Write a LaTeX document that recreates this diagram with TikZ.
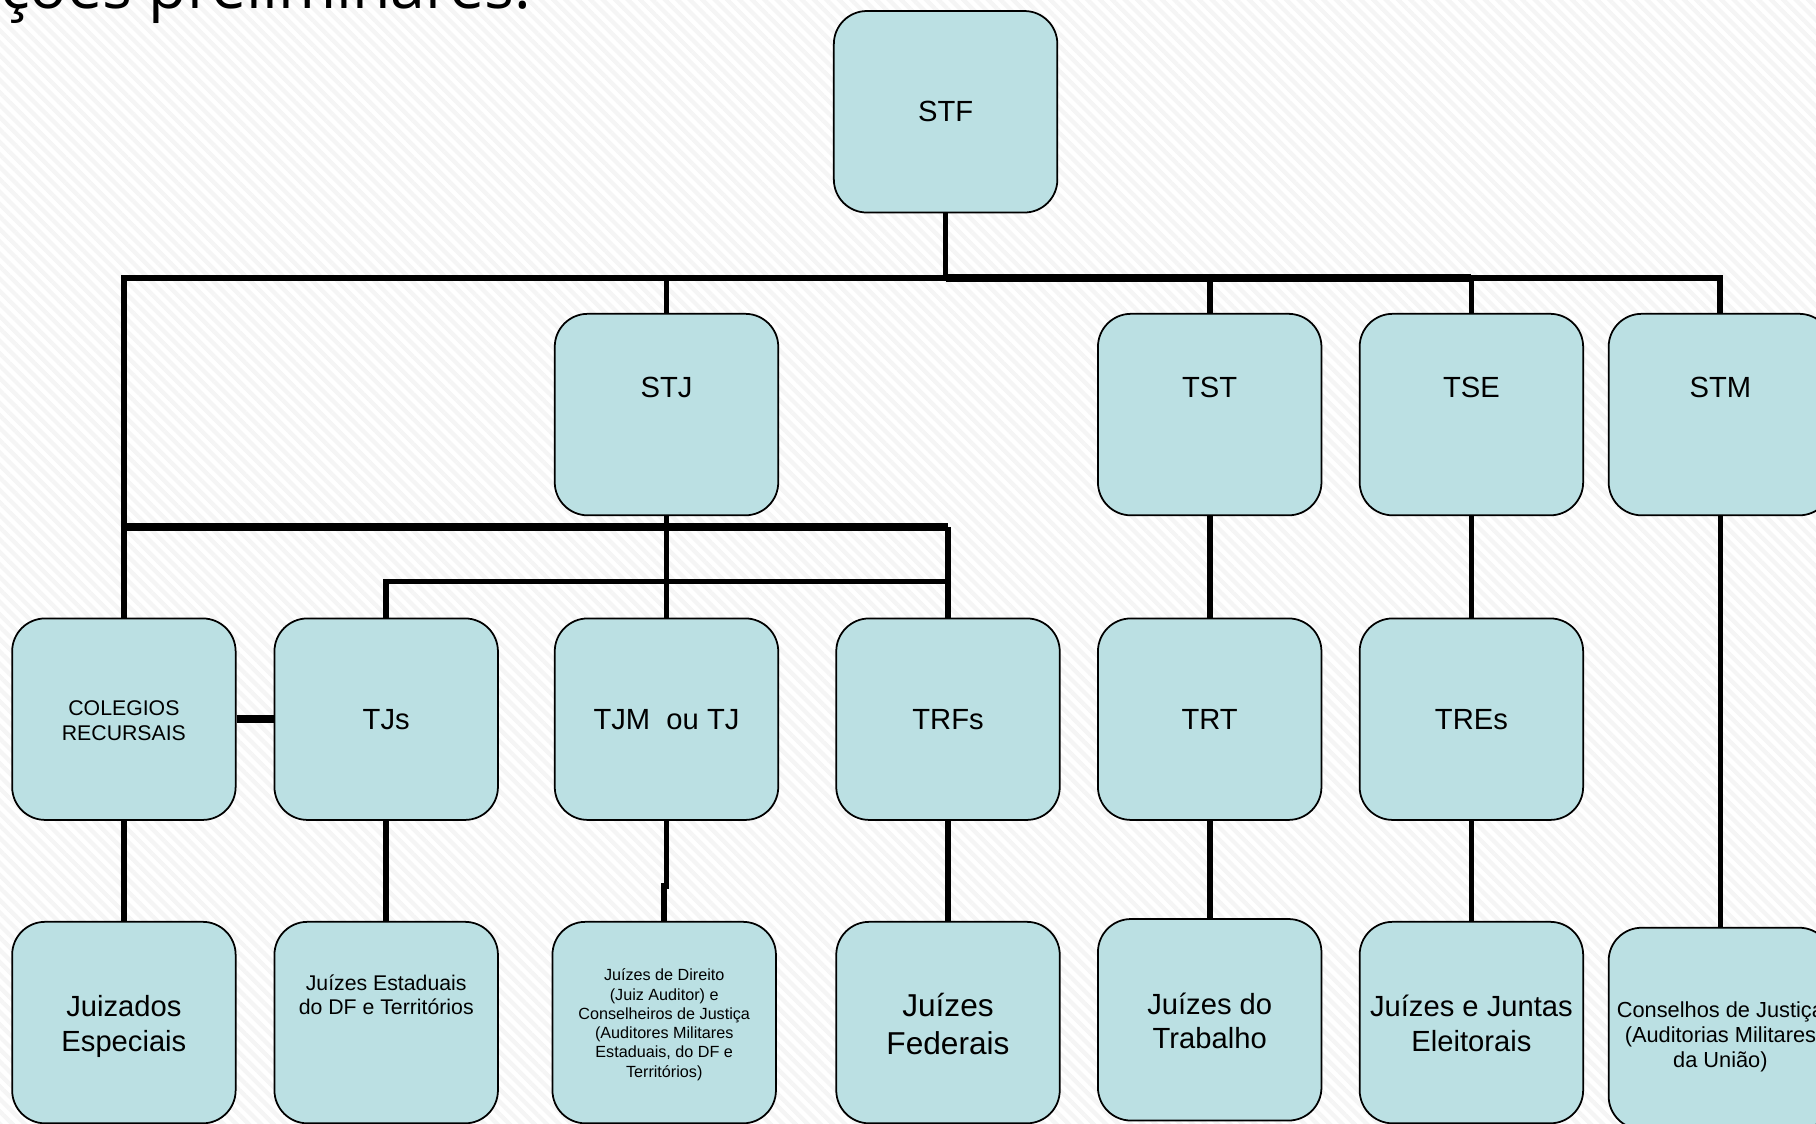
\documentclass[tikz,border=0pt]{standalone}
\usepackage{fontspec}
\setmainfont{Liberation Sans}
\newfontfamily\titlefont{Open Sans}
\usetikzlibrary{patterns.meta}

\definecolor{boxfill}{RGB}{187,224,227}

\begin{document}
\begin{tikzpicture}[
    box/.style={draw=black, line width=0.5pt, fill=boxfill, rounded corners=0.33cm,
      minimum width=2.235cm, minimum height=2.015cm, inner sep=0pt, align=center,
      font=\fontsize{8.3}{10}\selectfont},
    topbox/.style={box, text height=6pt, text depth=15.9pt},
    conn/.style={line width=1.6pt},
    bus/.style={line width=1.7pt},
    heavy/.style={line width=2.3pt}
  ]
  \useasboundingbox (0,0) rectangle (18.16,11.24);
  \clip (0,0) rectangle (18.16,11.24);

  % striped background
  \fill[white] (0,0) rectangle (18.16,11.24);
  \fill[pattern={Lines[angle=-45,distance=2.5pt,line width=1.2pt]}, pattern color=black!4]
    (0,0) rectangle (18.16,11.24);

  % slide title, cut at the top
  \node[anchor=base east, inner sep=0pt, font=\titlefont\fontsize{17.8}{20}\selectfont]
    (titulo) at (5.32,11.15) {ções preliminares:};

  % STF
  \node[box] (stf) at (9.456,10.122) {STF};

  % second row
  \node[topbox] (stj) at (6.665,7.094) {STJ};
  \node[topbox] (tst) at (12.097,7.094) {TST};
  \node[topbox] (tse) at (14.714,7.094) {TSE};
  \node[topbox] (stm) at (17.204,7.094) {STM};

  % third row
  \node[box, font=\fontsize{6.05}{7.25}\selectfont, text height=14pt, text depth=1.76pt]
    (colegios) at (1.239,4.048) {COLEGIOS\\RECURSAIS};
  \node[box] (tjs) at (3.862,4.048) {TJs};
  \node[box] (tjm) at (6.665,4.048) {TJM~~ou TJ};
  \node[box] (trfs) at (9.48,4.048) {TRFs};
  \node[box] (trt) at (12.097,4.048) {TRT};
  \node[box] (tres) at (14.714,4.048) {TREs};

  % fourth row
  \node[box, font=\fontsize{8.3}{9.9}\selectfont, text height=18pt, text depth=1.52pt]
    (juizados) at (1.239,1.014) {Juizados\\Especiais};
  \node[box, font=\fontsize{6.05}{6.9}\selectfont, text height=8pt, text depth=12.5pt]
    (jest) at (3.862,1.014) {Juízes Estaduais\\do DF e Territórios};
  \node[box, font=\fontsize{4.6}{5.47}\selectfont, text height=35pt, text depth=4.02pt]
    (jdir) at (6.642,1.014)
    {Juízes de Direito\\(Juiz Auditor) e\\Conselheiros de Justiça\\(Auditores Militares\\Estaduais, do DF e\\Territórios)};
  \node[box, font=\fontsize{9}{10.9}\selectfont, text height=20pt, text depth=1.7pt]
    (jfed) at (9.48,1.014) {Juízes\\Federais};
  \node[box, font=\fontsize{8.3}{9.6}\selectfont, text height=18pt, text depth=1.86pt]
    (jtrab) at (12.097,1.042) {Juízes do\\Trabalho};
  \node[box, font=\fontsize{8.3}{9.9}\selectfont, text height=18pt, text depth=1.52pt]
    (jjunt) at (14.714,1.014) {Juízes e Juntas\\Eleitorais};
  \node[box, font=\fontsize{6.2}{7.1}\selectfont, text height=25pt, text depth=2.84pt]
    (consel) at (17.204,0.955) {Conselhos de Justiça\\(Auditorias Militares\\da União)};

  \coordinate (busA) at (0,8.46);
  \coordinate (busB) at (0,5.97);
  \coordinate (busC) at (0,5.426);
  \coordinate (jog) at (0,2.38);

  % STF to the upper bus
  \draw[conn] (stf.south) -- (stf.south |- busA);
  \draw[bus] (stf.south |- busA) -| (colegios.north);
  \draw[heavy] (stf.south |- busA) -- (tse.north |- busA);
  \draw[bus] (tse.north |- busA) -| (stm.north);
  \foreach \n in {stj,tst,tse}
    \draw[conn] (\n.north |- busA) -- (\n.north);

  % STJ to the lower buses
  \draw[conn] (stj.south) -- (tjm.north);
  \draw[heavy] (colegios.north |- busB) -- (trfs.north |- busB);
  \draw[conn] (trfs.north |- busB) -- (trfs.north);
  \draw[conn] (tjs.north) |- (trfs.north |- busC);

  % COLEGIOS to TJs
  \draw[line width=2.4pt] (colegios.east) -- (tjs.west);

  % second row to third row
  \draw[conn] (tst.south) -- (trt.north);
  \draw[conn] (tse.south) -- (tres.north);

  % third row to fourth row
  \draw[conn] (colegios.south) -- (juizados.north);
  \draw[conn] (tjs.south) -- (jest.north);
  \draw[conn] (tjm.south) -- (tjm.south |- jog) -| (jdir.north);
  \draw[conn] (trfs.south) -- (jfed.north);
  \draw[conn] (trt.south) -- (jtrab.north);
  \draw[conn] (tres.south) -- (jjunt.north);
  \draw[conn] (stm.south) -- (consel.north);
\end{tikzpicture}
\end{document}
